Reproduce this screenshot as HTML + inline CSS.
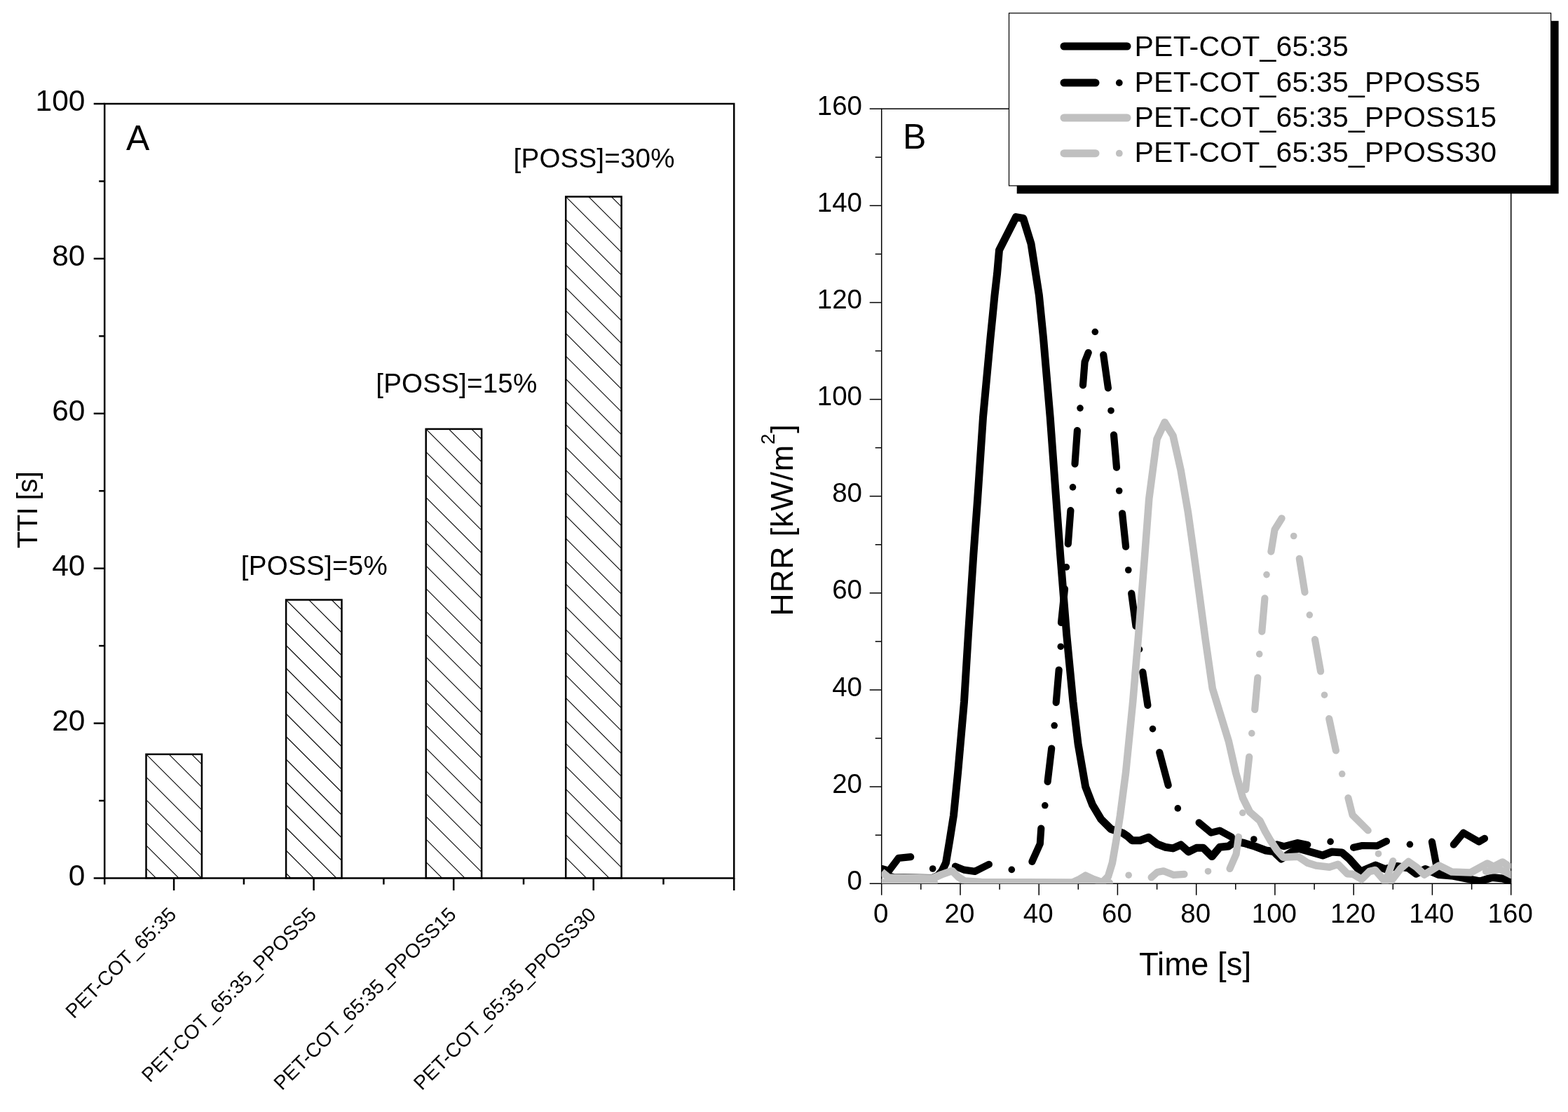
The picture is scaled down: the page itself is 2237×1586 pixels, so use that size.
<!DOCTYPE html>
<html lang="en"><head><meta charset="utf-8"><title>TTI and HRR of PET-COT fabrics</title>
<style>html,body{margin:0;padding:0;background:#fff}body{width:2237px;height:1586px;overflow:hidden}svg{display:block}</style></head>
<body>
<svg width="2237" height="1586" viewBox="0 0 2237 1586" font-family='"Liberation Sans", sans-serif' fill="#000">
<defs>
<clipPath id="clipB"><rect x="1257.7" y="155.2" width="898.0" height="1105.0"/></clipPath>
</defs>
<rect width="2237" height="1586" fill="#fff"/>
<g id="chartA">
<clipPath id="bc0"><rect x="208.5" y="1075.8" width="79.4" height="176.7"/></clipPath>
<path d="M206.5,976.3 L289.9,1059.7 M206.5,1008.8 L289.9,1092.2 M206.5,1041.3 L289.9,1124.7 M206.5,1073.8 L289.9,1157.2 M206.5,1106.3 L289.9,1189.7 M206.5,1138.8 L289.9,1222.2 M206.5,1171.3 L289.9,1254.7 M206.5,1203.8 L289.9,1287.2 M206.5,1236.3 L289.9,1319.7" stroke="#000" stroke-width="1.1" fill="none" clip-path="url(#bc0)"/>
<rect x="208.5" y="1075.8" width="79.4" height="176.7" fill="none" stroke="#000" stroke-width="2.5"/>
<clipPath id="bc1"><rect x="408.1" y="855.5" width="79.4" height="397.0"/></clipPath>
<path d="M406.1,756.0 L489.5,839.4 M406.1,788.5 L489.5,871.9 M406.1,821.0 L489.5,904.4 M406.1,853.5 L489.5,936.9 M406.1,886.0 L489.5,969.4 M406.1,918.5 L489.5,1001.9 M406.1,951.0 L489.5,1034.4 M406.1,983.5 L489.5,1066.9 M406.1,1016.0 L489.5,1099.4 M406.1,1048.5 L489.5,1131.9 M406.1,1081.0 L489.5,1164.4 M406.1,1113.5 L489.5,1196.9 M406.1,1146.0 L489.5,1229.4 M406.1,1178.5 L489.5,1261.9 M406.1,1211.0 L489.5,1294.4 M406.1,1243.5 L489.5,1326.9" stroke="#000" stroke-width="1.1" fill="none" clip-path="url(#bc1)"/>
<rect x="408.1" y="855.5" width="79.4" height="397.0" fill="none" stroke="#000" stroke-width="2.5"/>
<clipPath id="bc2"><rect x="607.7" y="611.9" width="79.4" height="640.6"/></clipPath>
<path d="M605.7,512.4 L689.1,595.8 M605.7,544.9 L689.1,628.3 M605.7,577.4 L689.1,660.8 M605.7,609.9 L689.1,693.3 M605.7,642.4 L689.1,725.8 M605.7,674.9 L689.1,758.3 M605.7,707.4 L689.1,790.8 M605.7,739.9 L689.1,823.3 M605.7,772.4 L689.1,855.8 M605.7,804.9 L689.1,888.3 M605.7,837.4 L689.1,920.8 M605.7,869.9 L689.1,953.3 M605.7,902.4 L689.1,985.8 M605.7,934.9 L689.1,1018.3 M605.7,967.4 L689.1,1050.8 M605.7,999.9 L689.1,1083.3 M605.7,1032.4 L689.1,1115.8 M605.7,1064.9 L689.1,1148.3 M605.7,1097.4 L689.1,1180.8 M605.7,1129.9 L689.1,1213.3 M605.7,1162.4 L689.1,1245.8 M605.7,1194.9 L689.1,1278.3 M605.7,1227.4 L689.1,1310.8" stroke="#000" stroke-width="1.1" fill="none" clip-path="url(#bc2)"/>
<rect x="607.7" y="611.9" width="79.4" height="640.6" fill="none" stroke="#000" stroke-width="2.5"/>
<clipPath id="bc3"><rect x="807.2" y="280.5" width="79.4" height="972.0"/></clipPath>
<path d="M805.2,181.0 L888.6,264.4 M805.2,213.5 L888.6,296.9 M805.2,246.0 L888.6,329.4 M805.2,278.5 L888.6,361.9 M805.2,311.0 L888.6,394.4 M805.2,343.5 L888.6,426.9 M805.2,376.0 L888.6,459.4 M805.2,408.5 L888.6,491.9 M805.2,441.0 L888.6,524.4 M805.2,473.5 L888.6,556.9 M805.2,506.0 L888.6,589.4 M805.2,538.5 L888.6,621.9 M805.2,571.0 L888.6,654.4 M805.2,603.5 L888.6,686.9 M805.2,636.0 L888.6,719.4 M805.2,668.5 L888.6,751.9 M805.2,701.0 L888.6,784.4 M805.2,733.5 L888.6,816.9 M805.2,766.0 L888.6,849.4 M805.2,798.5 L888.6,881.9 M805.2,831.0 L888.6,914.4 M805.2,863.5 L888.6,946.9 M805.2,896.0 L888.6,979.4 M805.2,928.5 L888.6,1011.9 M805.2,961.0 L888.6,1044.4 M805.2,993.5 L888.6,1076.9 M805.2,1026.0 L888.6,1109.4 M805.2,1058.5 L888.6,1141.9 M805.2,1091.0 L888.6,1174.4 M805.2,1123.5 L888.6,1206.9 M805.2,1156.0 L888.6,1239.4 M805.2,1188.5 L888.6,1271.9 M805.2,1221.0 L888.6,1304.4" stroke="#000" stroke-width="1.1" fill="none" clip-path="url(#bc3)"/>
<rect x="807.2" y="280.5" width="79.4" height="972.0" fill="none" stroke="#000" stroke-width="2.5"/>
<g stroke="#000" stroke-width="2.5" fill="none" stroke-linecap="butt">
<rect x="149.2" y="148.0" width="898.0" height="1104.5"/>
<line x1="133.7" y1="1252.5" x2="149.2" y2="1252.5"/>
<line x1="141.2" y1="1142.0" x2="149.2" y2="1142.0"/>
<line x1="133.7" y1="1031.6" x2="149.2" y2="1031.6"/>
<line x1="141.2" y1="921.1" x2="149.2" y2="921.1"/>
<line x1="133.7" y1="810.7" x2="149.2" y2="810.7"/>
<line x1="141.2" y1="700.2" x2="149.2" y2="700.2"/>
<line x1="133.7" y1="589.8" x2="149.2" y2="589.8"/>
<line x1="141.2" y1="479.4" x2="149.2" y2="479.4"/>
<line x1="133.7" y1="368.9" x2="149.2" y2="368.9"/>
<line x1="141.2" y1="258.5" x2="149.2" y2="258.5"/>
<line x1="133.7" y1="148.0" x2="149.2" y2="148.0"/>
<line x1="149.2" y1="1252.5" x2="149.2" y2="1261.5"/>
<line x1="248.1" y1="1252.5" x2="248.1" y2="1270.0"/>
<line x1="347.9" y1="1252.5" x2="347.9" y2="1261.5"/>
<line x1="447.6" y1="1252.5" x2="447.6" y2="1270.0"/>
<line x1="547.4" y1="1252.5" x2="547.4" y2="1261.5"/>
<line x1="647.2" y1="1252.5" x2="647.2" y2="1270.0"/>
<line x1="747.0" y1="1252.5" x2="747.0" y2="1261.5"/>
<line x1="846.7" y1="1252.5" x2="846.7" y2="1270.0"/>
<line x1="946.5" y1="1252.5" x2="946.5" y2="1261.5"/>
<line x1="1047.2" y1="1252.5" x2="1047.2" y2="1270.0"/>
</g>
<g font-size="42.5" text-anchor="end">
<text x="121.5" y="1262.8">0</text>
<text x="121.5" y="1041.9">20</text>
<text x="121.5" y="821.0">40</text>
<text x="121.5" y="600.1">60</text>
<text x="121.5" y="379.2">80</text>
<text x="121.5" y="158.3">100</text>
</g>
<text transform="translate(52.5,727.5) rotate(-90)" font-size="40" letter-spacing="-0.55" text-anchor="middle">TTI [s]</text>
<text x="180" y="214" font-size="50">A</text>
<g font-size="38.6" letter-spacing="0.17">
<text x="343.8" y="819.7" letter-spacing="0.25">[POSS]=5%</text>
<text x="536.3" y="559.6">[POSS]=15%</text>
<text x="732.6" y="239.3">[POSS]=30%</text>
</g>
<g font-size="28.3" text-anchor="end">
<text transform="translate(253.2,1306) rotate(-45)">PET-COT_65:35</text>
<text transform="translate(452.8,1306) rotate(-45)">PET-COT_65:35_PPOSS5</text>
<text transform="translate(652.4,1306) rotate(-45)">PET-COT_65:35_PPOSS15</text>
<text transform="translate(851.9,1306) rotate(-45)">PET-COT_65:35_PPOSS30</text>
</g>
</g>
<g id="chartB">
<g stroke="#000" stroke-width="1.5" fill="none">
<rect x="1257.7" y="155.2" width="898.0" height="1105.0"/>
<line x1="1240.7" y1="1260.2" x2="1257.7" y2="1260.2"/>
<line x1="1248.7" y1="1191.1" x2="1257.7" y2="1191.1"/>
<line x1="1240.7" y1="1122.1" x2="1257.7" y2="1122.1"/>
<line x1="1248.7" y1="1053.0" x2="1257.7" y2="1053.0"/>
<line x1="1240.7" y1="984.0" x2="1257.7" y2="984.0"/>
<line x1="1248.7" y1="914.9" x2="1257.7" y2="914.9"/>
<line x1="1240.7" y1="845.8" x2="1257.7" y2="845.8"/>
<line x1="1248.7" y1="776.8" x2="1257.7" y2="776.8"/>
<line x1="1240.7" y1="707.7" x2="1257.7" y2="707.7"/>
<line x1="1248.7" y1="638.6" x2="1257.7" y2="638.6"/>
<line x1="1240.7" y1="569.6" x2="1257.7" y2="569.6"/>
<line x1="1248.7" y1="500.5" x2="1257.7" y2="500.5"/>
<line x1="1240.7" y1="431.5" x2="1257.7" y2="431.5"/>
<line x1="1248.7" y1="362.4" x2="1257.7" y2="362.4"/>
<line x1="1240.7" y1="293.3" x2="1257.7" y2="293.3"/>
<line x1="1248.7" y1="224.3" x2="1257.7" y2="224.3"/>
<line x1="1240.7" y1="155.2" x2="1257.7" y2="155.2"/>
<line x1="1257.7" y1="1260.2" x2="1257.7" y2="1276.7"/>
<line x1="1313.8" y1="1260.2" x2="1313.8" y2="1268.7"/>
<line x1="1370.0" y1="1260.2" x2="1370.0" y2="1276.7"/>
<line x1="1426.1" y1="1260.2" x2="1426.1" y2="1268.7"/>
<line x1="1482.2" y1="1260.2" x2="1482.2" y2="1276.7"/>
<line x1="1538.3" y1="1260.2" x2="1538.3" y2="1268.7"/>
<line x1="1594.4" y1="1260.2" x2="1594.4" y2="1276.7"/>
<line x1="1650.6" y1="1260.2" x2="1650.6" y2="1268.7"/>
<line x1="1706.7" y1="1260.2" x2="1706.7" y2="1276.7"/>
<line x1="1762.8" y1="1260.2" x2="1762.8" y2="1268.7"/>
<line x1="1818.9" y1="1260.2" x2="1818.9" y2="1276.7"/>
<line x1="1875.1" y1="1260.2" x2="1875.1" y2="1268.7"/>
<line x1="1931.2" y1="1260.2" x2="1931.2" y2="1276.7"/>
<line x1="1987.3" y1="1260.2" x2="1987.3" y2="1268.7"/>
<line x1="2043.4" y1="1260.2" x2="2043.4" y2="1276.7"/>
<line x1="2099.6" y1="1260.2" x2="2099.6" y2="1268.7"/>
<line x1="2155.7" y1="1260.2" x2="2155.7" y2="1276.7"/>
</g>
<g font-size="38.5" text-anchor="end">
<text x="1230" y="1268.7">0</text>
<text x="1230" y="1130.6">20</text>
<text x="1230" y="992.5">40</text>
<text x="1230" y="854.3">60</text>
<text x="1230" y="716.2">80</text>
<text x="1230" y="578.1">100</text>
<text x="1230" y="440.0">120</text>
<text x="1230" y="301.8">140</text>
<text x="1230" y="163.7">160</text>
</g>
<g font-size="38.5" text-anchor="middle">
<text x="1256.7" y="1315.8">0</text>
<text x="1369.0" y="1315.8">20</text>
<text x="1481.2" y="1315.8">40</text>
<text x="1593.4" y="1315.8">60</text>
<text x="1705.7" y="1315.8">80</text>
<text x="1817.9" y="1315.8">100</text>
<text x="1930.2" y="1315.8">120</text>
<text x="2042.4" y="1315.8">140</text>
<text x="2154.7" y="1315.8">160</text>
</g>
<text x="1705" y="1390.8" font-size="45.5" text-anchor="middle">Time [s]</text>
<text transform="translate(1131,741.5) rotate(-90)" font-size="45" letter-spacing="0.8" text-anchor="middle">HRR [kW/m<tspan font-size="28" dy="-26">2</tspan><tspan dy="26">]</tspan></text>
<text x="1288" y="212" font-size="50">B</text>
<g clip-path="url(#clipB)" fill="none" stroke-linejoin="round">
<polyline points="1258.0,1239.5 1266.0,1249.0 1275.0,1251.5 1330.0,1252.5 1338.0,1249.0 1344.0,1242.0 1349.5,1230.6 1355.1,1197.1 1360.5,1163.0 1366.6,1101.8 1375.5,1000.9 1381.4,905.0 1388.8,791.8 1394.7,711.1 1402.5,595.0 1413.0,481.8 1416.2,450.0 1419.0,421.2 1422.6,390.0 1425.5,356.7 1449.5,309.6 1459.8,311.5 1471.0,347.6 1482.4,421.2 1488.5,481.8 1498.2,595.0 1506.7,711.1 1512.7,791.8 1521.7,905.0 1530.9,1000.9 1538.1,1061.4 1548.6,1122.0 1558.7,1148.2 1570.8,1168.4 1585.0,1182.5 1601.8,1188.1 1608.5,1192.6 1615.2,1198.7 1626.4,1198.7 1638.7,1194.3 1651.0,1203.8 1662.2,1208.2 1673.3,1209.9 1684.5,1204.9 1695.7,1214.9 1706.9,1209.3 1716.7,1209.3 1729.0,1221.6 1740.2,1208.2 1752.5,1207.1 1762.0,1200.0 1775.0,1202.5 1790.0,1207.0 1806.0,1213.0 1817.0,1214.5 1828.0,1225.0 1840.0,1217.0 1852.0,1210.0 1866.0,1214.0 1887.0,1220.0 1900.0,1215.0 1914.5,1216.0 1925.0,1225.0 1941.0,1243.0 1962.5,1234.1 1975.9,1239.5 1993.3,1235.4 2009.4,1238.1 2020.1,1246.2 2033.6,1239.5 2052.3,1247.5 2071.1,1248.9 2091.2,1252.9 2111.3,1256.9 2128.8,1251.5 2143.5,1252.9 2156.0,1257.6" stroke="#000" stroke-width="11"/>
<g stroke="#000" stroke-width="10.2" stroke-linecap="round">
<polyline points="1258.0,1239.0 1268.4,1241.8 1281.9,1223.9 1299.2,1222.2"/>
<polyline points="1362.9,1235.6 1375.2,1240.6 1390.8,1242.9 1410.9,1232.8"/>
<polyline points="1472.4,1228.9 1483.8,1203.5 1485.3,1181.5"/>
<polyline points="1494.6,1114.9 1500.2,1067.5"/>
<polyline points="1506.7,1001.9 1510.7,955.5"/>
<polyline points="1514.0,888.0 1519.0,840.0"/>
<polyline points="1523.8,775.6 1527.4,728.2"/>
<polyline points="1533.5,661.6 1536.9,614.2"/>
<polyline points="1545.0,549.4 1547.6,516.1 1552.7,503.0"/>
<polyline points="1574.2,506.0 1580.9,553.4"/>
<polyline points="1589.0,620.3 1593.0,666.7"/>
<polyline points="1601.1,732.3 1606.1,779.7"/>
<polyline points="1614.2,846.3 1620.5,893.0"/>
<polyline points="1630.3,958.5 1637.4,1005.9"/>
<polyline points="1654.2,1073.1 1666.7,1120.0"/>
<polyline points="1710.6,1173.3 1727.8,1187.6 1740.0,1184.6 1756.9,1193.7"/>
<polyline points="1821.8,1204.3 1831.8,1207.1 1850.8,1202.1 1865.3,1204.9"/>
<polyline points="1931.0,1208.8 1943.5,1206.0 1965.0,1206.3 1978.0,1199.8"/>
<polyline points="2042.9,1200.6 2049.0,1232.8 2052.0,1245.0"/>
<polyline points="2073.8,1204.6 2087.9,1187.8 2110.0,1200.6 2118.0,1195.9"/>
</g>
<g fill="#000" stroke="none">
<circle cx="1330.7" cy="1239.0" r="4.8"/>
<circle cx="1443.3" cy="1240.4" r="4.8"/>
<circle cx="1490.8" cy="1148.8" r="4.8"/>
<circle cx="1504.2" cy="1034.8" r="4.8"/>
<circle cx="1513.3" cy="922.2" r="4.8"/>
<circle cx="1521.4" cy="808.9" r="4.8"/>
<circle cx="1530.5" cy="694.9" r="4.8"/>
<circle cx="1541.0" cy="582.1" r="4.8"/>
<circle cx="1562.3" cy="473.3" r="4.8"/>
<circle cx="1585.0" cy="585.7" r="4.8"/>
<circle cx="1596.7" cy="700.0" r="4.8"/>
<circle cx="1609.8" cy="813.0" r="4.8"/>
<circle cx="1625.5" cy="926.2" r="4.8"/>
<circle cx="1644.5" cy="1039.6" r="4.8"/>
<circle cx="1680.3" cy="1152.9" r="4.8"/>
<circle cx="1788.8" cy="1197.0" r="4.8"/>
<circle cx="1898.1" cy="1200.4" r="4.8"/>
<circle cx="2011.4" cy="1204.3" r="4.8"/>
</g>
<polyline points="1258.0,1243.5 1268.0,1251.8 1330.5,1252.5 1344.0,1247.0 1358.4,1242.0 1367.5,1251.0 1376.0,1256.5 1400.0,1258.0 1530.0,1258.5 1540.0,1254.0 1548.7,1248.7 1560.0,1254.0 1572.8,1258.5 1581.0,1250.0 1586.9,1230.6 1592.7,1197.0 1598.0,1163.5 1606.1,1101.8 1616.2,1000.9 1624.3,905.0 1633.2,791.8 1639.3,711.1 1650.5,626.3 1661.7,602.2 1673.5,621.5 1684.6,670.7 1695.0,731.2 1702.6,785.0 1711.0,847.0 1719.7,912.0 1729.8,982.0 1752.9,1057.4 1763.0,1101.8 1773.1,1138.1 1783.2,1158.3 1797.3,1170.4 1805.0,1185.9 1812.8,1199.3 1821.8,1212.7 1830.7,1222.8 1851.9,1221.6 1865.3,1230.6 1877.6,1234.5 1896.6,1236.7 1908.9,1232.8 1922.3,1246.2 1930.2,1246.8 1942.5,1254.0 1953.6,1243.0 1962.0,1241.0 1975.0,1256.0 1985.0,1256.0 1998.0,1239.0 2009.5,1229.0 2021.0,1237.0 2032.0,1247.5 2053.0,1234.5 2071.0,1243.5 2098.0,1244.5 2122.0,1231.5 2131.0,1236.0 2143.5,1229.5 2156.0,1238.0" stroke="#c0c0c0" stroke-width="10.6"/>
<g stroke="#c0c0c0" stroke-width="10.2" stroke-linecap="round">
<polyline points="1250.0,1258.5 1333.0,1258.5"/>
<polyline points="1380.0,1259.0 1583.0,1259.0"/>
<polyline points="1642.6,1251.3 1651.0,1244.0 1659.9,1242.3 1674.5,1247.9 1689.5,1246.8"/>
<polyline points="1754.5,1239.0 1763.6,1218.3 1767.0,1193.7"/>
<polyline points="1777.1,1126.0 1782.2,1079.6"/>
<polyline points="1790.2,1012.0 1794.3,966.6"/>
<polyline points="1800.3,900.7 1804.4,853.3"/>
<polyline points="1813.4,786.7 1818.5,755.5 1828.6,739.3"/>
<polyline points="1853.8,796.8 1861.5,844.6"/>
<polyline points="1876.0,912.1 1884.1,957.5"/>
<polyline points="1896.2,1025.1 1905.9,1070.5"/>
<polyline points="1923.4,1138.1 1929.5,1162.3 1951.7,1184.5"/>
<polyline points="1987.3,1228.1 1981.3,1244.8 1975.9,1260.0"/>
<polyline points="2120.0,1243.0 2140.0,1240.0 2156.0,1248.0"/>
</g>
<g fill="#c0c0c0" stroke="none">
<circle cx="1610.2" cy="1248.2" r="4.8"/>
<circle cx="1723.5" cy="1242.7" r="4.8"/>
<circle cx="1772.8" cy="1159.3" r="4.8"/>
<circle cx="1785.8" cy="1045.9" r="4.8"/>
<circle cx="1796.7" cy="932.9" r="4.8"/>
<circle cx="1807.0" cy="819.6" r="4.8"/>
<circle cx="1845.7" cy="764.5" r="4.8"/>
<circle cx="1868.3" cy="877.1" r="4.8"/>
<circle cx="1889.5" cy="991.2" r="4.8"/>
<circle cx="1914.7" cy="1103.8" r="4.8"/>
<circle cx="1966.5" cy="1217.7" r="4.8"/>
</g>
</g>
<g id="legend">
<rect x="1450.7" y="29.8" width="772.9" height="246.4" fill="#000"/>
<rect x="1439.5" y="18.7" width="773.1" height="246.2" fill="#fff" stroke="#000" stroke-width="1.2"/>
<line x1="1518" y1="66.0" x2="1608" y2="66.0" stroke="#000" stroke-width="11" stroke-linecap="round"/>
<text x="1618.6" y="80.1" font-size="41" letter-spacing="0.18">PET-COT_65:35</text>
<line x1="1518" y1="118.1" x2="1563" y2="118.1" stroke="#000" stroke-width="11" stroke-linecap="round"/>
<circle cx="1596.8" cy="118.1" r="4.9" fill="#000"/>
<text x="1618.6" y="130.8" font-size="41" letter-spacing="0.18">PET-COT_65:35_PPOSS5</text>
<line x1="1518" y1="168.0" x2="1608" y2="168.0" stroke="#c0c0c0" stroke-width="11" stroke-linecap="round"/>
<text x="1618.6" y="181.0" font-size="41" letter-spacing="0.18">PET-COT_65:35_PPOSS15</text>
<line x1="1518" y1="218.7" x2="1563" y2="218.7" stroke="#c0c0c0" stroke-width="11" stroke-linecap="round"/>
<circle cx="1596.8" cy="218.7" r="4.9" fill="#c0c0c0"/>
<text x="1618.6" y="231.3" font-size="41" letter-spacing="0.18">PET-COT_65:35_PPOSS30</text>
</g>
</g>
</svg>
</body></html>
